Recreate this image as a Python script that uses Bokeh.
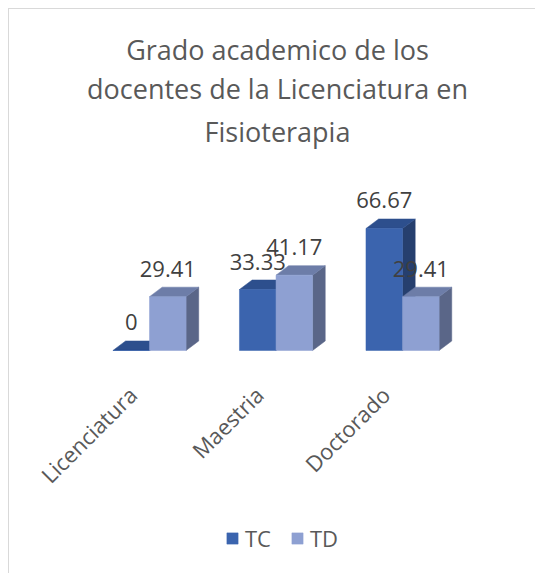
import math
from bokeh.plotting import figure
from bokeh.models import ColumnDataSource, Legend, LegendItem, Title
from bokeh.core.properties import value
from bokeh.embed import file_html
from bokeh.resources import INLINE

# ---- data ----
categories = ["Licenciatura", "Maestria", "Doctorado"]
series = ["TC", "TD"]
tc_values = [0, 33.33, 66.67]
td_values = [29.41, 41.17, 29.41]
title_lines = ["Grado academico de los", "docentes de la Licenciatura en", "Fisioterapia"]

# ---- styling ----
FONT = "Open Sans"
TEXT_GREY = "#595959"
LABEL_GREY = "#404040"
colors = {
    "TC": {"front": "#3B64AE", "top": "#2D4F8D", "side": "#263F6E"},
    "TD": {"front": "#8EA0D2", "top": "#6D7DA8", "side": "#5A6688"},
}
bar_w = 0.289      # width of a single bar (x units, 1 unit = one category)
depth_x = 0.1      # 3D depth offset in x units
depth_y = 5.2      # 3D depth offset in y units

p = figure(width=526, height=564, x_range=(-0.8617, 2.885), y_range=(-121.86, 107.1),
           output_backend="svg", toolbar_location=None,
           x_axis_location=None, y_axis_location=None,
           min_border_left=31, min_border_right=21, min_border_top=145,
           min_border_bottom=0)
p.frame_width = 474
p.frame_height = 419
p.styles = {"margin-left": "8px", "margin-top": "8px",
            "border-top": "1px solid #d9d9d9", "border-left": "1px solid #d9d9d9"}
p.grid.visible = False
p.outline_line_color = None
p.background_fill_color = "white"
p.border_fill_color = "white"

renderers = {}
for s_idx, (name, vals) in enumerate(zip(series, [tc_values, td_values])):
    xs0, xs1 = [], []
    top_xs, top_ys, side_xs, side_ys = [], [], [], []
    for i, v in enumerate(vals):
        x0 = i - bar_w if s_idx == 0 else i
        x1 = x0 + bar_w
        xs0.append(x0)
        xs1.append(x1)
        top_xs.append([x0, x0 + depth_x, x1 + depth_x, x1])
        top_ys.append([v, v + depth_y, v + depth_y, v])
        side_xs.append([x1, x1 + depth_x, x1 + depth_x, x1])
        side_ys.append([0, depth_y, v + depth_y, v])
    c = colors[name]
    p.patches(side_xs, side_ys, fill_color=c["side"], line_color=c["side"], line_width=0.5)
    p.patches(top_xs, top_ys, fill_color=c["top"], line_color=c["top"], line_width=0.5)
    src = ColumnDataSource(dict(left=xs0, right=xs1, top=vals,
                                bottom=[0] * len(vals),
                                cx=[(a + b) / 2 for a, b in zip(xs0, xs1)],
                                lbl=[("%g" % v) for v in vals]))
    r = p.quad(left="left", right="right", top="top", bottom="bottom", source=src,
               fill_color=c["front"], line_color=c["front"], line_width=0.5)
    renderers[name] = r
    p.text(x="cx", y="top", text="lbl", source=src, text_font=value(FONT),
           text_font_size="22px", text_color=LABEL_GREY, text_align="center",
           text_baseline="middle", y_offset=-28)

# category labels, rotated 45 degrees under each group
label_shift = 0.135
cat_src = ColumnDataSource(dict(x=[i - label_shift for i in range(len(categories))],
                                y=[0] * len(categories), text=categories))
p.text(x="x", y="y", text="text", source=cat_src, angle=math.pi / 4,
       text_font=value(FONT), text_font_size="22px", text_color=TEXT_GREY,
       text_align="right", text_baseline="middle", y_offset=40)

# legend at the bottom
legend = Legend(items=[LegendItem(label=n, renderers=[renderers[n]]) for n in series],
                orientation="horizontal", location=(185, 20),
                label_text_font=FONT, label_text_font_size="22px",
                label_text_color=TEXT_GREY, glyph_width=14, glyph_height=14,
                label_standoff=6, spacing=19, border_line_color=None,
                background_fill_alpha=0, margin=0, padding=4)
p.add_layout(legend)

# title (three centered lines, last added is outermost)
for k, line in enumerate(reversed(title_lines)):
    p.add_layout(Title(text=line, align="center", text_font=FONT,
                       text_font_size="27px", text_font_style="normal",
                       text_color=TEXT_GREY, standoff=9 if k == 0 else 0), "above")

open("out.html", "w").write(file_html(p, INLINE))
